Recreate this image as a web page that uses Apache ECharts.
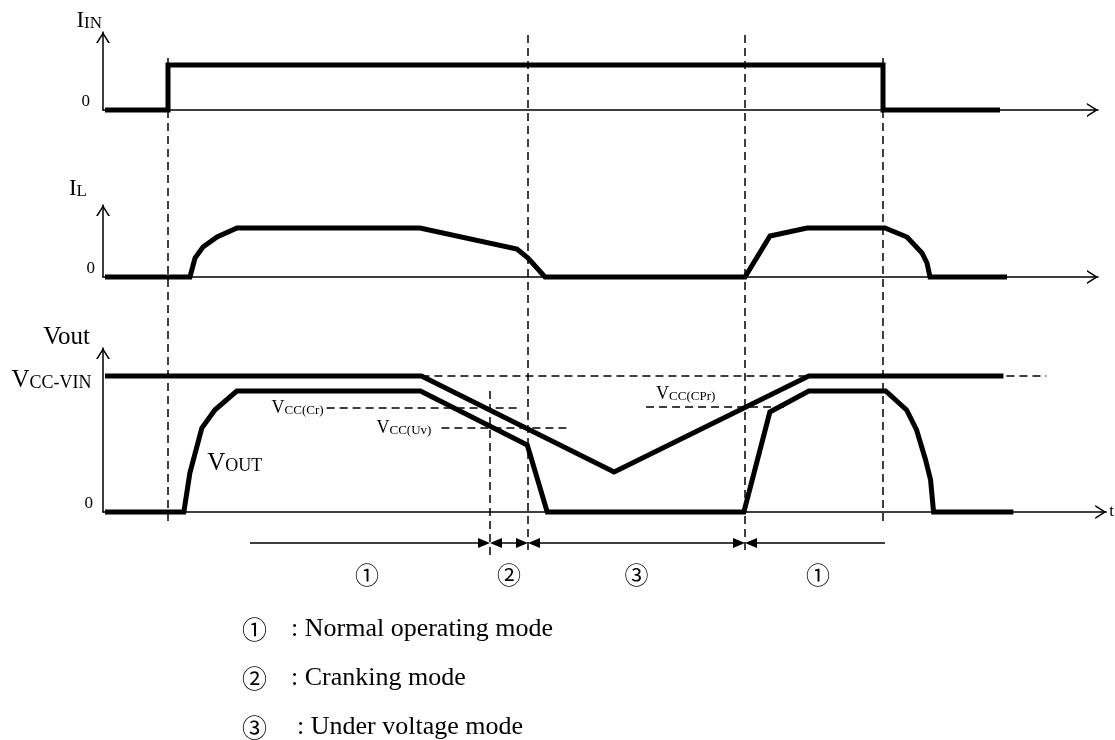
<!DOCTYPE html>
<html>
<head>
<meta charset="utf-8">
<title>Mode timing chart</title>
<script src="https://cdn.jsdelivr.net/npm/echarts@6/dist/echarts.min.js"></script>
<style>
  html, body { margin: 0; padding: 0; background: #fff; }
  #chart { width: 1115px; height: 740px; }
</style>
</head>
<body>
<div id="chart"></div>
<script>
// time runs from the vertical axes to the right, levels are measured up from each "0" line
const inTime  = [2, 65, 65, 780, 780, 897];
const inLevel = [0, 0, 45, 45, 0, 0];

const ilTime  = [2, 87, 92, 100, 114, 134, 317, 414, 425, 442, 642, 667, 704, 782, 804, 819, 824, 827, 904];
const ilLevel = [0, 0, 19, 30, 40, 49, 49, 28, 19, 0, 0, 41, 49, 49, 40, 24, 14, 0, 0];

const vccTime  = [2, 319, 512, 707, 902];
const vccLevel = [136, 136, 40, 136, 136];
const vccDashEnd = 945;

const voutTime  = [2, 81, 87, 99, 112, 134, 318, 425, 445, 642, 668, 707, 784, 805, 815, 824, 829, 832, 912];
const voutLevel = [0, 0, 39, 84, 102, 121, 121, 67, 0, 0, 100, 121, 121, 102, 82, 52, 32, 0, 0];

const thrNames = ['Cr', 'Uv', 'CPr'];
const thrLevel = [104, 84, 105];
const thrFrom  = [224, 339, 544];
const thrTo    = [415, 465, 687];

const boundaryTimes = [65, 387, 425, 642, 780];

const modeIds  = ['①', '②', '③', '①'];
const modeFrom = [147, 387, 425, 642];
const modeTo   = [387, 425, 642, 782];

const legendIds   = ['①', '②', '③'];
const legendTexts = [': Normal operating mode', ': Cranking mode', ': Under voltage mode'];

// ---- layout ----
const serif = 'Liberation Serif';
const cjk = 'Noto Sans CJK JP';
const chevron = 'path://M0,11L7,0L14,11L12.2,11L7,2.8L1.8,11Z';
const guideTop = [58, 391, 35, 35, 58];
const guideBottom = [525, 555, 555, 555, 525];
const arrowRowY = 543;
const head = 6;

const pair = (t, v) => t.map((x, i) => [x, v[i]]);

const arrowLine = {
    show: true,
    symbol: ['none', chevron],
    symbolSize: [14, 11],
    symbolOffset: [0, -5.5],
    lineStyle: { color: '#000', width: 1.5 }
};

function timeAxis(gi, max, extra) {
    return Object.assign({
        type: 'value', gridIndex: gi, min: 0, max: max,
        axisLine: arrowLine, axisTick: { show: false },
        axisLabel: { show: false }, splitLine: { show: false }
    }, extra || {});
}

function levelAxis(gi, max, name, rich, gap, pad, labelMargin) {
    return {
        type: 'value', gridIndex: gi, min: 0, max: max, interval: max,
        axisLine: arrowLine, axisTick: { show: false }, splitLine: { show: false },
        axisLabel: {
            formatter: v => (v === 0 ? '0' : ''),
            color: '#000', fontFamily: serif, fontSize: 17,
            margin: labelMargin, verticalAlign: 'bottom'
        },
        name: name, nameLocation: 'end', nameGap: gap,
        nameTextStyle: { align: 'right', verticalAlign: 'bottom', padding: [0, pad, 0, 0], rich: rich }
    };
}

const big = (s) => ({ fontFamily: serif, fontSize: s, color: '#000', verticalAlign: 'bottom' });

const trace = { color: '#000', width: 5, join: 'miter' };
const dash = { color: '#000', width: 1.5, type: [8, 5] };

const thresholdLines = thrNames.map((n, i) => [
    {
        coord: [thrFrom[i], thrLevel[i]],
        label: {
            show: true,
            position: n === 'CPr' ? 'insideStartTop' : 'start',
            distance: n === 'CPr' ? [10, 4] : (n === 'Uv' ? 10 : 3),
            formatter: '{a|V}{b|CC(' + n + ')}',
            rich: { a: big(18), b: big(13) }
        }
    },
    { coord: [thrTo[i], thrLevel[i]] }
]);

const guideLines = boundaryTimes.map((t, i) => [
    { coord: [t, guideTop[i]] },
    { coord: [t, guideBottom[i]] }
]);

const modeLines = modeIds.map((id, i) => {
    const first = i === 0, last = i === modeIds.length - 1;
    return [
        {
            coord: [first ? modeFrom[i] : modeFrom[i] + head, arrowRowY],
            symbol: first ? 'none' : 'triangle',
            lineStyle: { color: '#000', width: 1.5, type: 'solid' },
            label: {
                show: true, position: 'insideMiddleBottom', distance: [0, 20],
                formatter: id, fontFamily: cjk, fontSize: 24, color: '#000'
            }
        },
        {
            coord: [last ? modeTo[i] : modeTo[i] - head, arrowRowY],
            symbol: last ? 'none' : 'triangle'
        }
    ];
});

const chart = echarts.init(document.getElementById('chart'));

chart.setOption({
    animation: false,
    backgroundColor: '#fff',
    grid: [
        { left: 103, top: 32, width: 995, height: 78 },
        { left: 103, top: 205, width: 995, height: 72 },
        { left: 103, top: 348, width: 1005, height: 164 },
        { left: 103, top: 0, width: 1005, height: 740 }
    ],
    xAxis: [
        timeAxis(0, 995),
        timeAxis(1, 995),
        timeAxis(2, 1005, {
            name: 't', nameLocation: 'end', nameGap: 3,
            nameTextStyle: { fontFamily: serif, fontSize: 17, color: '#000' }
        }),
        { type: 'value', gridIndex: 3, min: 0, max: 1005, show: false }
    ],
    yAxis: [
        levelAxis(0, 78, '{a|I}{b|IN}', { a: big(23), b: big(17) }, 0, 1, 13),
        levelAxis(1, 72, '{a|I}{b|L}', { a: big(23), b: big(17) }, 5, 16, 8),
        levelAxis(2, 164, '{a|Vout}', { a: big(25) }, -2, 13, 10),
        { type: 'value', gridIndex: 3, min: 0, max: 740, inverse: true, show: false }
    ],
    series: [
        {
            type: 'line', xAxisIndex: 0, yAxisIndex: 0, data: pair(inTime, inLevel),
            symbol: 'none', lineStyle: trace, clip: false, silent: true
        },
        {
            type: 'line', xAxisIndex: 1, yAxisIndex: 1, data: pair(ilTime, ilLevel),
            symbol: 'none', lineStyle: trace, clip: false, silent: true
        },
        {
            type: 'line', xAxisIndex: 2, yAxisIndex: 2, data: pair(vccTime, vccLevel),
            symbol: 'none', lineStyle: trace, clip: false, silent: true,
            markLine: {
                silent: true, symbol: 'none', lineStyle: dash, label: { show: false },
                data: [[{ coord: [vccTime[1], vccLevel[1]] }, { coord: [vccDashEnd, vccLevel[1]] }]]
            },
            markPoint: {
                silent: true, symbol: 'circle', symbolSize: 1,
                itemStyle: { color: 'rgba(0,0,0,0)' },
                label: {
                    show: true, position: 'left', distance: 13, offset: [0, 4],
                    formatter: '{a|V}{b|CC-VIN}',
                    rich: { a: big(25), b: big(18) }
                },
                data: [{ coord: [vccTime[0], vccLevel[0]] }]
            }
        },
        {
            type: 'line', xAxisIndex: 2, yAxisIndex: 2, data: pair(voutTime, voutLevel),
            symbol: 'none', lineStyle: trace, clip: false, silent: true,
            markLine: {
                silent: true, symbol: 'none', lineStyle: dash, label: { show: false },
                data: thresholdLines
            },
            markPoint: {
                silent: true, symbol: 'circle', symbolSize: 1,
                itemStyle: { color: 'rgba(0,0,0,0)' },
                label: {
                    show: true, position: 'inside',
                    formatter: '{a|V}{b|OUT}',
                    rich: { a: big(25), b: big(18) }
                },
                data: [{ coord: [132, 49] }]
            }
        },
        {
            type: 'line', xAxisIndex: 3, yAxisIndex: 3, data: [], clip: false, silent: true,
            markLine: {
                silent: true, symbol: 'none', symbolSize: [10, 12],
                lineStyle: dash, label: { show: false },
                data: guideLines.concat(modeLines)
            }
        }
    ],
    graphic: legendIds.flatMap((id, i) => [
        {
            type: 'text', x: 242, y: 629 + i * 49,
            style: { text: id, font: '25px "' + cjk + '"', fill: '#000', verticalAlign: 'middle' }
        },
        {
            type: 'text', x: i === 2 ? 297 : 291, y: 629 + i * 49,
            style: { text: legendTexts[i], font: '26px "' + serif + '"', fill: '#000', verticalAlign: 'middle' }
        }
    ])
});
</script>
</body>
</html>
